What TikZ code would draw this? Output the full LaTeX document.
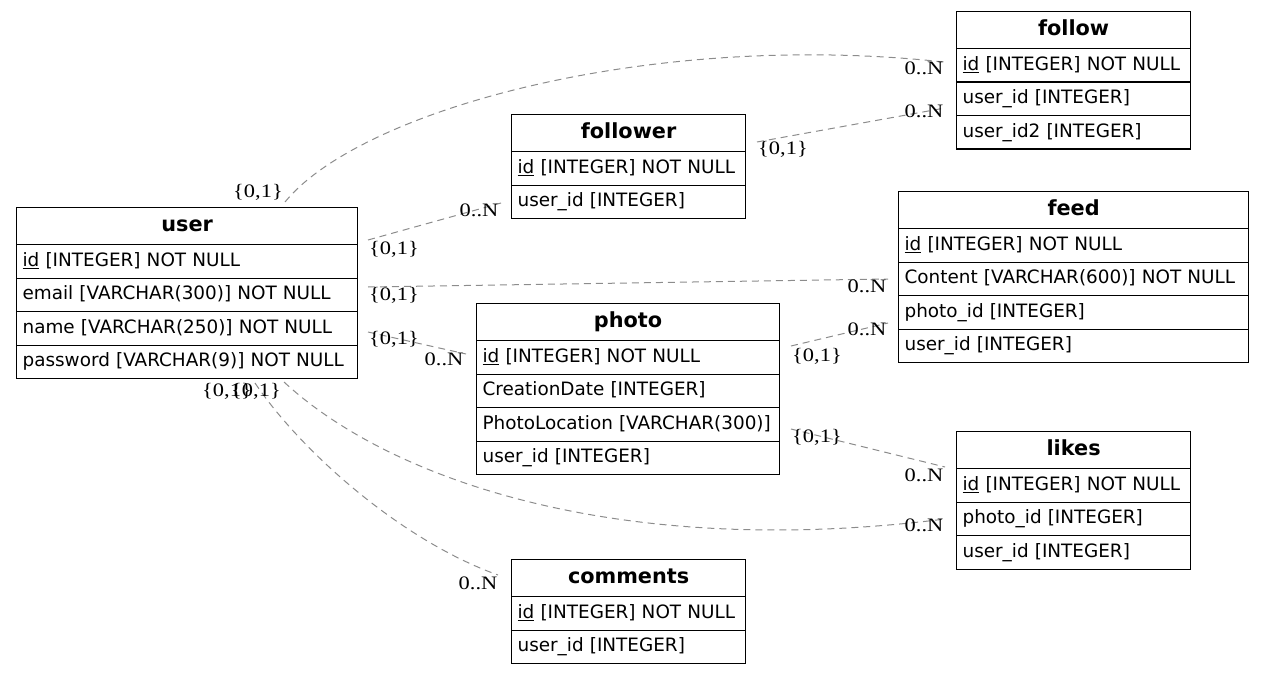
\documentclass[tikz,border=0pt]{standalone}
\usepackage{fontspec}
\newfontfamily\tblfont{DejaVu Sans}
\newfontfamily\lblfont[FakeStretch=1.18]{Liberation Serif}
\newcommand{\nb}[1]{\mbox{#1}}
\tikzset{
  tbl/.style={draw=black, line width=1.2pt, anchor=north west, inner xsep=6pt, inner ysep=0pt,
    font=\tblfont\fontsize{18.4}{22}\selectfont, text height=13.5pt, text depth=3.6pt},
  ttl/.style={tbl, minimum height=37pt, align=center, font=\tblfont\fontsize{20.8}{24}\selectfont\bfseries,
    text height=15pt, text depth=4pt},
  rw/.style={tbl, minimum height=33.5pt, align=left},
  rel/.style={draw=gray!90, line width=1pt, dash pattern=on 7pt off 5pt},
  lbl/.style={font=\lblfont\fontsize{19}{21}\selectfont, inner sep=0pt, text height=12.5pt, text depth=3.5pt}
}
\begin{document}
\begin{tikzpicture}[x=1pt,y=-1pt]
\useasboundingbox (0,0) rectangle (1264,674);
% follow
\node[ttl, text width=222pt] (follow) at (956,11) {follow};
\node[rw, text width=222pt] (follow-1) at (956,48) {\nb{\underline{id} [INTEGER] NOT NULL}};
\node[rw, text width=222pt] (follow-2) at (956,81.5) {\nb{user\_id [INTEGER]}};
\node[rw, text width=222pt] (follow-3) at (956,115) {\nb{user\_id2 [INTEGER]}};
% follower
\node[ttl, text width=222pt] (follower) at (511,114) {follower};
\node[rw, text width=222pt] (follower-1) at (511,151) {\nb{\underline{id} [INTEGER] NOT NULL}};
\node[rw, text width=222pt] (follower-2) at (511,184.5) {\nb{user\_id [INTEGER]}};
% user
\node[ttl, text width=329pt] (user) at (16,207) {user};
\node[rw, text width=329pt] (user-1) at (16,244) {\nb{\underline{id} [INTEGER] NOT NULL}};
\node[rw, text width=329pt] (user-2) at (16,277.5) {\nb{email [VARCHAR(300)] NOT NULL}};
\node[rw, text width=329pt] (user-3) at (16,311) {\nb{name [VARCHAR(250)] NOT NULL}};
\node[rw, text width=329pt] (user-4) at (16,344.5) {\nb{password [VARCHAR(9)] NOT NULL}};
% feed
\node[ttl, text width=338pt] (feed) at (898,191) {feed};
\node[rw, text width=338pt] (feed-1) at (898,228) {\nb{\underline{id} [INTEGER] NOT NULL}};
\node[rw, text width=338pt] (feed-2) at (898,261.5) {\nb{Content [VARCHAR(600)] NOT NULL}};
\node[rw, text width=338pt] (feed-3) at (898,295) {\nb{photo\_id [INTEGER]}};
\node[rw, text width=338pt] (feed-4) at (898,328.5) {\nb{user\_id [INTEGER]}};
% photo
\node[ttl, text width=291pt] (photo) at (476,303) {photo};
\node[rw, text width=291pt] (photo-1) at (476,340) {\nb{\underline{id} [INTEGER] NOT NULL}};
\node[rw, text width=291pt] (photo-2) at (476,373.5) {\nb{CreationDate [INTEGER]}};
\node[rw, text width=291pt] (photo-3) at (476,407) {\nb{PhotoLocation [VARCHAR(300)]}};
\node[rw, text width=291pt] (photo-4) at (476,440.5) {\nb{user\_id [INTEGER]}};
% likes
\node[ttl, text width=222pt] (likes) at (956,431) {likes};
\node[rw, text width=222pt] (likes-1) at (956,468) {\nb{\underline{id} [INTEGER] NOT NULL}};
\node[rw, text width=222pt] (likes-2) at (956,501.5) {\nb{photo\_id [INTEGER]}};
\node[rw, text width=222pt] (likes-3) at (956,535) {\nb{user\_id [INTEGER]}};
% comments
\node[ttl, text width=222pt] (comments) at (511,559) {comments};
\node[rw, text width=222pt] (comments-1) at (511,596) {\nb{\underline{id} [INTEGER] NOT NULL}};
\node[rw, text width=222pt] (comments-2) at (511,629.5) {\nb{user\_id [INTEGER]}};
% connector end points
\coordinate (uf-s) at (285,202);   \coordinate (uf-e) at (944,62);
\coordinate (ff-s) at (757,142);   \coordinate (ff-e) at (945,108);
\coordinate (ufw-s) at (368,240);  \coordinate (ufw-e) at (501,203);
\coordinate (ufd-s) at (368,287);  \coordinate (ufd-e) at (888,279);
\coordinate (up-s) at (368,332);   \coordinate (up-e) at (466,354);
\coordinate (pf-s) at (791,346);   \coordinate (pf-e) at (888,323);
\coordinate (pl-s) at (791,429);   \coordinate (pl-e) at (945,467);
\coordinate (ul-s) at (284,382);   \coordinate (ul-e) at (945,519);
\coordinate (uc-s) at (255,383);   \coordinate (uc-e) at (498,575);
% connectors
\draw[rel] (uf-s) .. controls (360,110) and (650,30) .. (uf-e);
\draw[rel] (ff-s) -- (ff-e);
\draw[rel] (ufw-s) -- (ufw-e);
\draw[rel] (ufd-s) -- (ufd-e);
\draw[rel] (up-s) -- (up-e);
\draw[rel] (pf-s) -- (pf-e);
\draw[rel] (pl-s) -- (pl-e);
\draw[rel] (ul-s) .. controls (390,480) and (620,560) .. (ul-e);
\draw[rel] (uc-s) .. controls (300,450) and (400,540) .. (uc-e);
% labels
\node[lbl] (l-uf-s) at (258,193) {\{0,1\}};
\node[lbl] (l-uf-e) at (924,70) {0..N};
\node[lbl] (l-ff-s) at (783,150) {\{0,1\}};
\node[lbl] (l-ff-e) at (924,113) {0..N};
\node[lbl] (l-ufw-s) at (394,250) {\{0,1\}};
\node[lbl] (l-ufw-e) at (479,212) {0..N};
\node[lbl] (l-ufd-s) at (394,296) {\{0,1\}};
\node[lbl] (l-ufd-e) at (867,288) {0..N};
\node[lbl] (l-up-s) at (394,340) {\{0,1\}};
\node[lbl] (l-up-e) at (444,361) {0..N};
\node[lbl] (l-pf-s) at (817,357) {\{0,1\}};
\node[lbl] (l-pf-e) at (867,331) {0..N};
\node[lbl] (l-pl-s) at (817,438) {\{0,1\}};
\node[lbl] (l-pl-e) at (924,477) {0..N};
\node[lbl] (l-ul-s) at (256,392) {\{0,1\}};
\node[lbl] (l-ul-e) at (924,527) {0..N};
\node[lbl] (l-uc-s) at (227,392) {\{0,1\}};
\node[lbl] (l-uc-e) at (478,585) {0..N};
\end{tikzpicture}
\end{document}
